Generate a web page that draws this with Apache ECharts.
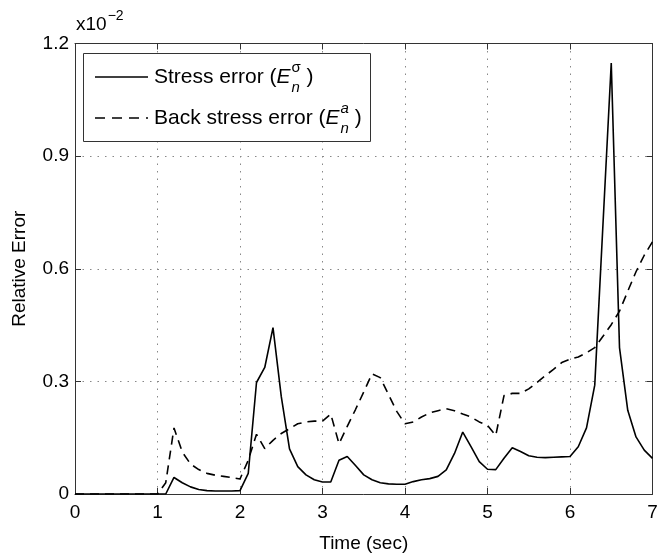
<!DOCTYPE html>
<html>
<head>
<meta charset="utf-8">
<script src="https://cdn.jsdelivr.net/npm/echarts@6/dist/echarts.min.js"></script>
<style>
html,body{margin:0;padding:0;background:#fff;}
#chart{width:669px;height:558px;}
</style>
</head>
<body>
<div id="chart"></div>
<script>
// Time (sec)
const time = [
  0.0,0.1,0.2,0.3,0.4,0.5,0.6,0.7,0.8,0.9,
  1.0,1.1,1.2,1.3,1.4,1.5,1.6,1.7,1.8,1.9,
  2.0,2.1,2.2,2.3,2.4,2.5,2.6,2.7,2.8,2.9,
  3.0,3.1,3.2,3.3,3.4,3.5,3.6,3.7,3.8,3.9,
  4.0,4.1,4.2,4.3,4.4,4.5,4.6,4.7,4.8,4.9,
  5.0,5.1,5.2,5.3,5.4,5.5,5.6,5.7,5.8,5.9,
  6.0,6.1,6.2,6.3,6.4,6.5,6.6,6.7,6.8,6.9,
  7.0
];
// Stress error (x10^-2)
const stressError = [
  0,0,0,0,0,0,0,0,0,0,
  0,0,0.044,0.030,0.019,0.012,0.009,0.008,0.008,0.008,
  0.009,0.055,0.297,0.337,0.443,0.260,0.120,0.073,0.051,0.038,
  0.032,0.032,0.090,0.100,0.076,0.051,0.038,0.030,0.027,0.026,
  0.026,0.033,0.038,0.041,0.047,0.064,0.108,0.165,0.126,0.086,
  0.066,0.065,0.095,0.123,0.113,0.102,0.098,0.097,0.098,0.099,
  0.100,0.126,0.176,0.290,0.720,1.148,0.390,0.223,0.152,0.117,
  0.095
];
// Back stress error (x10^-2)
const backStressError = [
  0,0,0,0,0,0,0,0,0,0,
  0,0.030,0.176,0.112,0.080,0.065,0.055,0.050,0.047,0.044,
  0.040,0.090,0.159,0.121,0.143,0.161,0.174,0.187,0.192,0.194,
  0.194,0.213,0.134,0.180,0.225,0.272,0.320,0.310,0.265,0.220,
  0.187,0.192,0.205,0.216,0.222,0.227,0.222,0.213,0.205,0.192,
  0.183,0.156,0.262,0.268,0.268,0.280,0.297,0.315,0.332,0.350,
  0.359,0.365,0.376,0.390,0.420,0.451,0.487,0.540,0.592,0.636,
  0.672
];
const xTicks = [0,1,2,3,4,5,6,7];
const yTicks = [0,0.3,0.6,0.9,1.2];

const FF = '"Liberation Sans", Arial, Helvetica, sans-serif';
const FS = 19;      // axis text
const FL = 21;      // legend text
const FSUB = 15;    // legend sub/superscript
const chart = echarts.init(document.getElementById('chart'), null, {renderer:'canvas'});

const ctx = document.createElement('canvas').getContext('2d');
function tw(text, size, italic){
  ctx.font = (italic ? 'italic ' : '') + size + 'px ' + FF;
  return ctx.measureText(text).width;
}
function txt(text, x, y, size, italic){
  return {type:'text', x:x, y:y, z:100,
    style:{text:text, fill:'#000', fontSize:size, fontFamily:FF, fontStyle: italic?'italic':'normal',
      align:'left', verticalAlign:'middle', textAlign:'left', textVerticalAlign:'middle'}};
}
function legendRow(label, supText, supItalic, y){
  const els = [];
  let x = 154;
  els.push(txt(label + ' (', x, y, FL, false));
  x += tw(label + ' (', FL, false);
  els.push(txt('E', x, y, FL, true));
  x += tw('E', FL, true) + 1;
  els.push(txt(supText, x, y - 9, FSUB, supItalic));
  els.push(txt('n', x, y + 11, FSUB, true));
  x += Math.max(tw(supText, FSUB, supItalic), tw('n', FSUB, true));
  els.push(txt(' )', x, y, FL, false));
  return els;
}
const row1Y = 77, row2Y = 118;
const graphic = [
  {type:'rect', z:90, shape:{x:83.5, y:53.5, width:287, height:88},
    style:{fill:'#fff', stroke:'#333', lineWidth:1}},
  {type:'line', z:100, shape:{x1:95, y1:row1Y, x2:148, y2:row1Y},
    style:{stroke:'#000', lineWidth:1.6}},
  {type:'line', z:100, shape:{x1:95, y1:row2Y, x2:148, y2:row2Y},
    style:{stroke:'#000', lineWidth:1.6, lineDash:[10,7]}},
  ...legendRow('Stress error', 'σ', false, row1Y),
  ...legendRow('Back stress error', 'a', true, row2Y),
  txt('x10', 76, 25, FS, false),
  txt('−2', 76 + tw('x10', FS, false) + 1, 16, 14, false)
];

const axisCommon = {
  type:'value',
  axisLine:{show:true, onZero:false, lineStyle:{color:'#333', width:1}},
  axisTick:{show:true, inside:true, length:6, lineStyle:{color:'#333', width:1}},
};

const option = {
  animation:false,
  backgroundColor:'#fff',
  grid:{left:75, right:16.5, top:43.5, bottom:60.5, containLabel:false},
  xAxis:[
    Object.assign({}, axisCommon, {
      min:xTicks[0], max:xTicks[xTicks.length-1], interval:1, position:'bottom',
      axisLabel:{show:true, color:'#000', fontSize:FS, fontFamily:FF, margin:9},
      splitLine:{show:true, lineStyle:{color:'#888', width:1, type:[1.5,6]}},
      name:'Time (sec)', nameLocation:'middle', nameGap:40,
      nameTextStyle:{color:'#000', fontSize:FS, fontFamily:FF}
    }),
    Object.assign({}, axisCommon, {
      min:xTicks[0], max:xTicks[xTicks.length-1], interval:1, position:'top',
      axisLabel:{show:false}, splitLine:{show:false}
    })
  ],
  yAxis:[
    Object.assign({}, axisCommon, {
      min:yTicks[0], max:yTicks[yTicks.length-1], interval:0.3, position:'left',
      axisLabel:{show:true, color:'#000', fontSize:FS, fontFamily:FF, margin:6,
        formatter:function(v){ return Math.abs(v) < 1e-9 ? '0' : v.toFixed(1); }},
      splitLine:{show:true, lineStyle:{color:'#888', width:1, type:[1.5,6]}},
      name:'Relative Error', nameLocation:'middle', nameGap:46, nameRotate:90,
      nameTextStyle:{color:'#000', fontSize:FS, fontFamily:FF}
    }),
    Object.assign({}, axisCommon, {
      min:yTicks[0], max:yTicks[yTicks.length-1], interval:0.3, position:'right',
      axisLabel:{show:false}, splitLine:{show:false}
    })
  ],
  series:[
    {name:'Stress error', type:'line', xAxisIndex:0, yAxisIndex:0, showSymbol:false, silent:true,
      data: time.map((t,i)=>[t, stressError[i]]),
      lineStyle:{color:'#000', width:1.6, type:'solid'}, z:5},
    {name:'Back stress error', type:'line', xAxisIndex:0, yAxisIndex:0, showSymbol:false, silent:true,
      data: time.map((t,i)=>[t, backStressError[i]]),
      lineStyle:{color:'#000', width:1.6, type:[9,6]}, z:5}
  ],
  graphic: graphic
};
chart.setOption(option);
</script>
</body>
</html>
